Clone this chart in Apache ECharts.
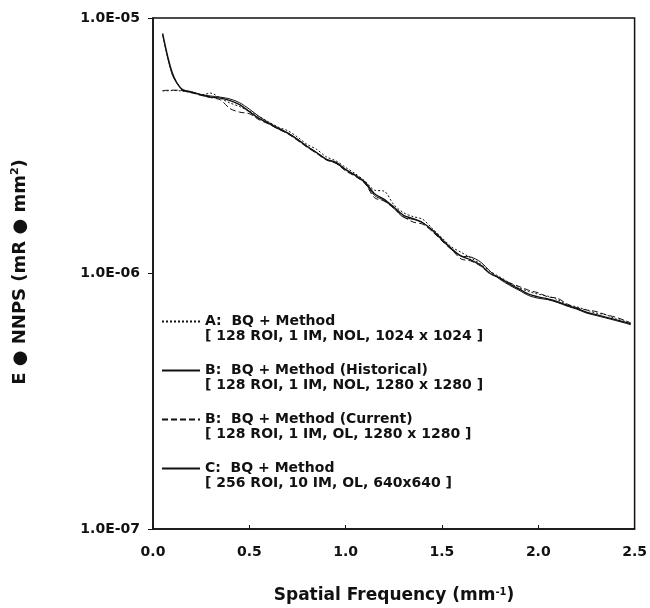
<!DOCTYPE html>
<html>
<head>
<meta charset="utf-8">
<script src="https://cdn.jsdelivr.net/npm/echarts@6/dist/echarts.min.js"></script>
<style>html,body{margin:0;padding:0;background:#fff}#c{width:650px;height:608px}</style>
</head>
<body>
<div id="c"></div>
<script>
// spatial frequency (mm^-1)
const freq = [0.05,0.10,0.15,0.20,0.25,0.30,0.35,0.40,0.45,0.50,0.55,0.60,0.65,0.70,0.75,0.80,0.85,0.90,0.95,1.00,
  1.05,1.10,1.15,1.20,1.25,1.30,1.35,1.40,1.45,1.50,1.55,1.60,1.65,1.70,1.75,1.80,1.85,1.90,1.95,2.00,
  2.05,2.10,2.15,2.20,2.25,2.30,2.35,2.40,2.45,2.48];
// E*NNPS values (x 1e-6 mR*mm^2)
const seriesA = [5.18,5.20,5.18,5.10,5.00,5.08,4.85,4.65,4.50,4.32,4.12,3.92,3.74,3.62,3.42,3.20,3.06,2.86,2.76,2.60,
  2.46,2.30,2.12,2.10,1.86,1.73,1.67,1.63,1.50,1.38,1.27,1.21,1.15,1.09,1.02,0.97,0.92,0.88,0.85,0.83,
  0.815,0.79,0.755,0.74,0.72,0.70,0.69,0.665,0.65,0.64];
const seriesBHist = [8.60,6.00,5.28,5.15,5.02,4.95,4.90,4.82,4.66,4.40,4.12,3.90,3.72,3.55,3.36,3.15,2.97,2.80,2.70,2.55,
  2.43,2.26,2.02,1.93,1.80,1.66,1.63,1.58,1.47,1.35,1.24,1.17,1.16,1.11,1.02,0.95,0.90,0.86,0.82,0.80,
  0.79,0.77,0.745,0.725,0.70,0.685,0.67,0.655,0.64,0.63];
const seriesBCur = [5.20,5.22,5.20,5.10,4.98,4.88,4.78,4.42,4.28,4.22,4.00,3.85,3.68,3.52,3.32,3.12,2.95,2.78,2.70,2.52,
  2.40,2.25,1.98,1.92,1.80,1.67,1.59,1.56,1.46,1.34,1.24,1.14,1.12,1.07,1.00,0.96,0.92,0.89,0.86,0.84,
  0.81,0.80,0.76,0.735,0.72,0.71,0.69,0.675,0.655,0.64];
const seriesC = [8.70,6.10,5.25,5.12,5.00,4.90,4.86,4.75,4.58,4.30,4.05,3.87,3.69,3.54,3.34,3.14,2.97,2.80,2.72,2.55,
  2.42,2.28,2.05,1.95,1.82,1.69,1.64,1.58,1.48,1.36,1.25,1.17,1.13,1.08,1.00,0.96,0.91,0.87,0.83,0.81,
  0.795,0.775,0.75,0.73,0.705,0.69,0.675,0.66,0.645,0.635];
const legendNames = [
  'A:  BQ + Method\n[ 128 ROI, 1 IM, NOL, 1024 x 1024 ]',
  'B:  BQ + Method (Historical)\n[ 128 ROI, 1 IM, NOL, 1280 x 1280 ]',
  'B:  BQ + Method (Current)\n[ 128 ROI, 1 IM, OL, 1280 x 1280 ]',
  'C:  BQ + Method\n[ 256 ROI, 10 IM, OL, 640x640 ]'
];
const xTicks = [0, 2.5, 0.5];
const yTicks = [1e-7, 1e-5];

const FONT = 'DejaVu Sans';
const pairs = arr => freq.map((f, i) => [f, arr[i] * 1e-6]);
function yFmt(v) {
  const e = Math.round(Math.log10(v));
  const s = e < 0 ? '-' : '+';
  const a = Math.abs(e);
  return '1.0E' + s + (a < 10 ? '0' + a : a);
}
const mkSeries = (name, arr, type, width) => ({
  name, type: 'line', data: pairs(arr), symbol: 'none', smooth: 0.3,
  lineStyle: { color: '#111', width: width, type: type },
  itemStyle: { color: '#111' }, silent: true, animation: false
});

const chart = echarts.init(document.getElementById('c'), null, { renderer: 'canvas' });
chart.setOption({
  animation: false,
  grid: { left: 153, right: 14, top: 18, bottom: 79, show: true, borderColor: '#111', borderWidth: 1.5 },
  xAxis: {
    type: 'value', min: xTicks[0], max: xTicks[1], interval: xTicks[2],
    axisLine: { lineStyle: { color: '#111', width: 1.5 } },
    axisTick: { inside: true, length: 4, lineStyle: { color: '#111' } },
    splitLine: { show: false },
    axisLabel: { margin: 16, color: '#111', fontFamily: FONT, fontWeight: 'bold', fontSize: 14,
      formatter: v => v.toFixed(1) }
  },
  yAxis: {
    type: 'log', logBase: 10, min: yTicks[0], max: yTicks[1], interval: 1,
    axisLine: { show: true, lineStyle: { color: '#111', width: 1.5 } },
    axisTick: { show: true, inside: false, length: 5, lineStyle: { color: '#111' } },
    minorTick: { show: false },
    splitLine: { show: false },
    axisLabel: { margin: 13, color: '#111', fontFamily: FONT, fontWeight: 'bold', fontSize: 14, formatter: yFmt }
  },
  legend: {
    orient: 'vertical', left: 161, top: 299, padding: 0, itemGap: 4,
    itemWidth: 38, itemHeight: 10, selectedMode: false,
    itemStyle: { opacity: 0 },
    data: legendNames,
    formatter: name => '\u00a0\n' + name,
    textStyle: { fontFamily: FONT, fontWeight: 'bold', fontSize: 14, lineHeight: 15, color: '#111' }
  },
  series: [
    mkSeries(legendNames[0], seriesA, [2, 2], 1),
    mkSeries(legendNames[1], seriesBHist, 'solid', 1),
    mkSeries(legendNames[2], seriesBCur, [6, 3], 1),
    mkSeries(legendNames[3], seriesC, 'solid', 1.4)
  ],
  graphic: [
    { type: 'text', x: 394, y: 596,
      style: { text: '{m|Spatial Frequency (mm}{s|-1}{m|)}', align: 'center', verticalAlign: 'middle',
        rich: { m: { fontFamily: FONT, fontWeight: 'bold', fontSize: 17, fill: '#111', lineHeight: 20 },
                s: { fontFamily: FONT, fontWeight: 'bold', fontSize: 10, fill: '#111', padding: [0, 0, 8, 0] } } } },
    { type: 'text', x: 20, y: 272, rotation: Math.PI / 2,
      style: { text: '{m|E \u25CF NNPS (mR \u25CF mm}{s|2}{m|)}', align: 'center', verticalAlign: 'middle',
        rich: { m: { fontFamily: FONT, fontWeight: 'bold', fontSize: 18, fill: '#111', lineHeight: 22 },
                s: { fontFamily: FONT, fontWeight: 'bold', fontSize: 11, fill: '#111', padding: [0, 0, 9, 0] } } } }
  ]
});
</script>
</body>
</html>
